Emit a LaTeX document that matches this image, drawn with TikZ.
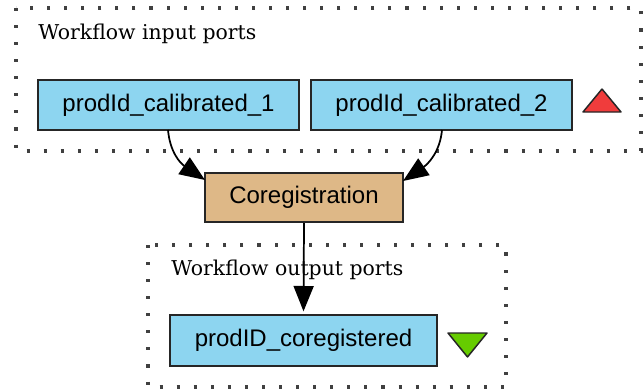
\documentclass[tikz,border=0pt]{standalone}
\usepackage{fontspec}
\setmainfont{DejaVu Serif}
\setsansfont{Liberation Sans}
\usetikzlibrary{arrows.meta}
\definecolor{portblue}{HTML}{8DD5F0}
\definecolor{procbrown}{HTML}{DEB887}
\definecolor{upred}{HTML}{F03C3C}
\definecolor{downgreen}{HTML}{66CC00}
\tikzset{
  px/.style={x=0.75pt,y=-0.75pt},
  cluster/.style={draw=black!75, line width=2.3pt, dash pattern=on 2.3pt off 10.5pt},
  portbox/.style={draw=black!85, line width=1.5pt, fill=portblue, font=\sffamily\fontsize{18}{20}\selectfont, inner sep=0pt},
  procbox/.style={draw=black!85, line width=1.5pt, fill=procbrown, font=\sffamily\fontsize{18}{20}\selectfont, inner sep=0pt},
  clabel/.style={font=\rmfamily\fontsize{15.3}{17}\selectfont, anchor=base west, inner sep=0pt},
  flow/.style={line width=1.3pt, -{Triangle[length=19pt,width=15pt]}},
  tri/.style={draw=black!85, line width=1.1pt, line join=round}
}
\begin{document}
\begin{tikzpicture}[px]
\useasboundingbox (0,0) rectangle (643,389);
% clusters
\draw[cluster] (16,8) rectangle (641,151);
\node[clabel] (inlabel) at (38,40) {Workflow input ports};
\draw[cluster] (148,245) rectangle (506,387);
\node[clabel] (outlabel) at (171,275) {Workflow output ports};
% nodes
\node[portbox, minimum width=195.75pt, minimum height=37.5pt] (p1) at (168.5,105) {prodId\_calibrated\_1};
\node[portbox, minimum width=195.75pt, minimum height=37.5pt] (p2) at (441.5,105) {prodId\_calibrated\_2};
\node[procbox, minimum width=148.5pt, minimum height=36.75pt] (coreg) at (304,197.5) {Coregistration};
\node[portbox, minimum width=200.25pt, minimum height=38.25pt] (out) at (303.5,340.5) {prodID\_coregistered};
% triangles
\draw[tri, fill=upred] (583,112) -- (621,112) -- (602,89) -- cycle;
\draw[tri, fill=downgreen] (448,333) -- (487,333) -- (467.5,357) -- cycle;
% edges
\coordinate (c1) at (205,180);
\coordinate (c2) at (403,181);
\coordinate (s1) at (168,130);
\coordinate (s2) at (442,130);
\draw[flow] (s1) .. controls (170,152) and (180,163) .. (c1);
\draw[flow] (s2) .. controls (440,152) and (428,164) .. (c2);
\draw[flow] (coreg.south) -- ([yshift=2pt]out.north);
\end{tikzpicture}
\end{document}
